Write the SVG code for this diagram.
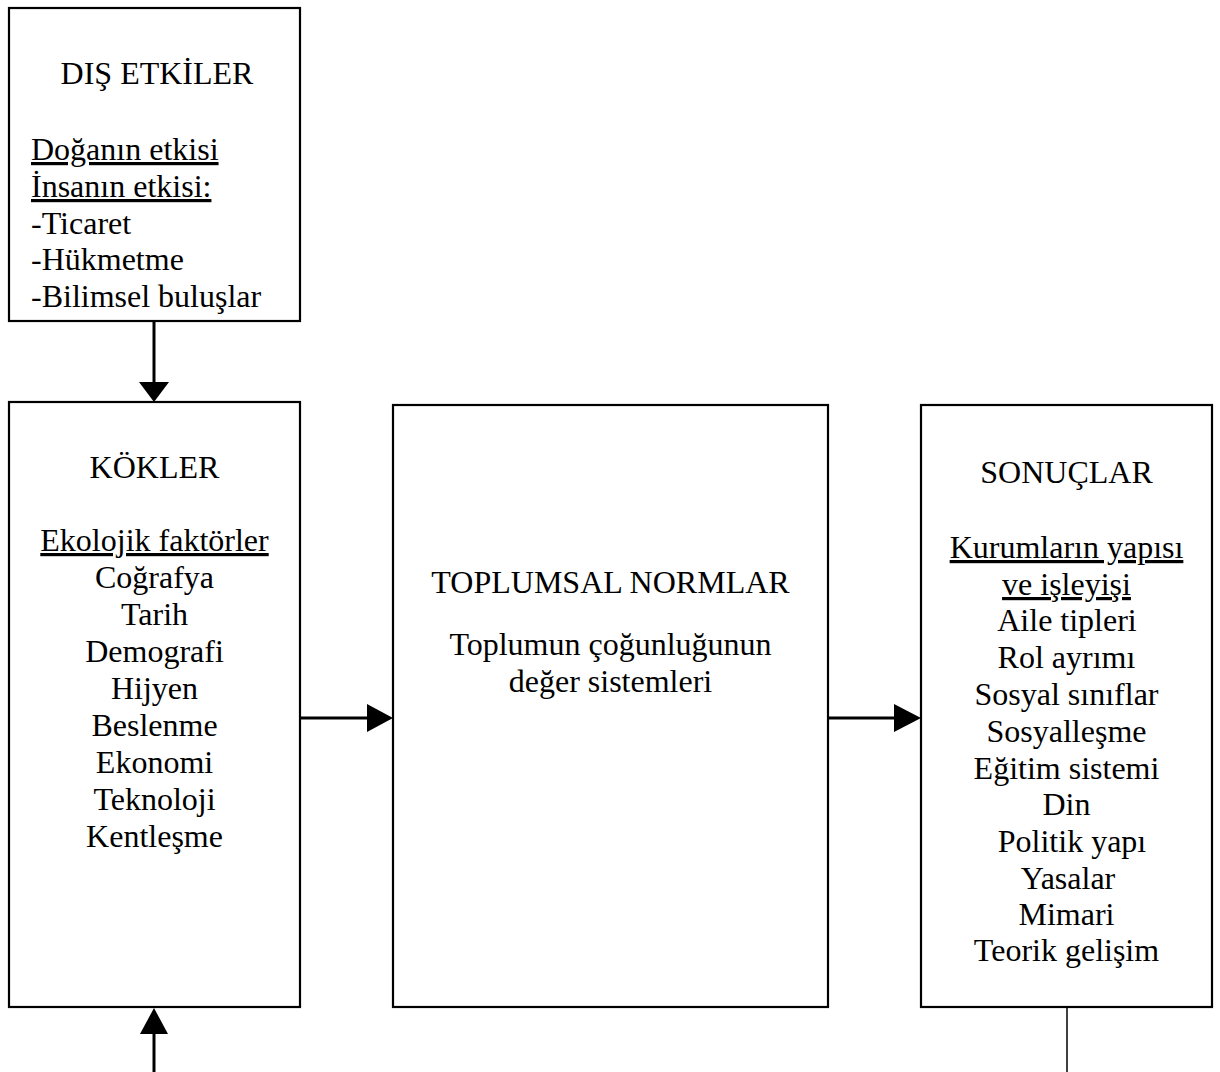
<svg xmlns="http://www.w3.org/2000/svg" width="1220" height="1072" viewBox="0 0 1220 1072">
  <style>
    .box { fill: #ffffff; stroke: #000000; stroke-width: 2.2; }
    .t { font-family: "Liberation Serif", "Times New Roman", serif; font-size: 32px; fill: #000000; }
    .c { text-anchor: middle; }
    .u { text-decoration: underline; }
    .wire { stroke: #000000; stroke-width: 3; fill: none; }
    .thin { stroke: #000000; stroke-width: 1.5; fill: none; }
    .head { fill: #000000; stroke: none; }
  </style>
  <rect x="0" y="0" width="1220" height="1072" fill="#ffffff"/>

  <!-- external influences -->
  <g id="dis-etkiler">
    <rect class="box" x="9" y="8" width="291" height="313"/>
    <text class="t c" x="157" y="84">DIŞ ETKİLER</text>
    <text class="t u" x="31" y="160">Doğanın etkisi</text>
    <text class="t u" x="31" y="197">İnsanın etkisi:</text>
    <text class="t" x="31" y="234">-Ticaret</text>
    <text class="t" x="31" y="270">-Hükmetme</text>
    <text class="t" x="31" y="307">-Bilimsel buluşlar</text>
  </g>

  <!-- roots -->
  <g id="kokler">
    <rect class="box" x="9" y="402" width="291" height="605"/>
    <text class="t c" x="154.5" y="478">KÖKLER</text>
    <text class="t c u" x="154.5" y="551">Ekolojik faktörler</text>
    <text class="t c" x="154.5" y="588">Coğrafya</text>
    <text class="t c" x="154.5" y="625">Tarih</text>
    <text class="t c" x="154.5" y="662">Demografi</text>
    <text class="t c" x="154.5" y="699">Hijyen</text>
    <text class="t c" x="154.5" y="736">Beslenme</text>
    <text class="t c" x="154.5" y="773">Ekonomi</text>
    <text class="t c" x="154.5" y="810">Teknoloji</text>
    <text class="t c" x="154.5" y="847">Kentleşme</text>
  </g>

  <!-- social norms -->
  <g id="toplumsal-normlar">
    <rect class="box" x="393" y="405" width="435" height="602"/>
    <text class="t c" x="610.5" y="593">TOPLUMSAL NORMLAR</text>
    <text class="t c" x="610.5" y="655">Toplumun çoğunluğunun</text>
    <text class="t c" x="610.5" y="692">değer sistemleri</text>
  </g>

  <!-- outcomes -->
  <g id="sonuclar">
    <rect class="box" x="921" y="405" width="291" height="602"/>
    <text class="t c" x="1066.5" y="483">SONUÇLAR</text>
    <text class="t c u" x="1066.5" y="558">Kurumların yapısı</text>
    <text class="t c u" x="1066.5" y="595">ve işleyişi</text>
    <text class="t c" x="1067" y="631">Aile tipleri</text>
    <text class="t c" x="1066.5" y="668">Rol ayrımı</text>
    <text class="t c" x="1066.5" y="705">Sosyal sınıflar</text>
    <text class="t c" x="1066.5" y="742">Sosyalleşme</text>
    <text class="t c" x="1066.5" y="779">Eğitim sistemi</text>
    <text class="t c" x="1066.5" y="815">Din</text>
    <text class="t c" x="1072" y="852">Politik yapı</text>
    <text class="t c" x="1068" y="889">Yasalar</text>
    <text class="t c" x="1066.5" y="925">Mimari</text>
    <text class="t c" x="1066.5" y="961">Teorik gelişim</text>
  </g>

  <!-- connectors -->
  <g id="connectors">
    <line class="wire" x1="154" y1="321" x2="154" y2="384"/>
    <polygon class="head" points="139,382 169,382 154,402"/>

    <line class="wire" x1="300" y1="718" x2="368" y2="718"/>
    <polygon class="head" points="367,704 367,732 393,718"/>

    <line class="wire" x1="828" y1="718" x2="895" y2="718"/>
    <polygon class="head" points="894,704 894,732 921,718"/>

    <line class="wire" x1="154" y1="1032" x2="154" y2="1072"/>
    <polygon class="head" points="140,1034 168,1034 154,1008"/>

    <line class="thin" x1="1067" y1="1007" x2="1067" y2="1072"/>
  </g>
</svg>
